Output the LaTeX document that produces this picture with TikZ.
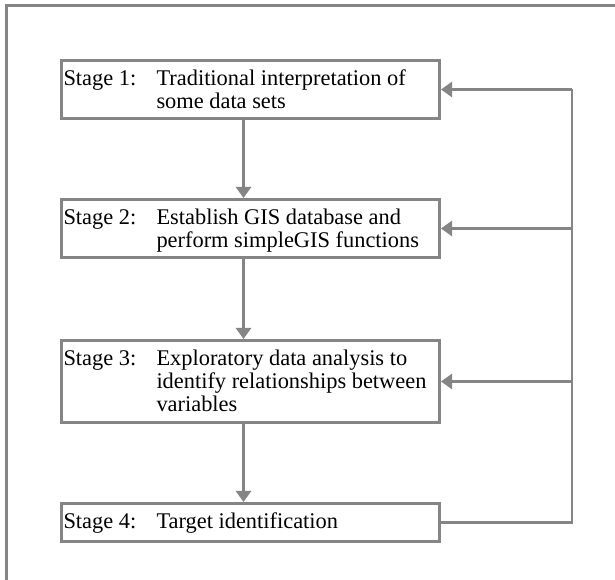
\documentclass[tikz,border=0pt]{standalone}
\usepackage{fontspec}
\setmainfont{Liberation Serif}
\usetikzlibrary{arrows.meta,positioning}
\definecolor{edge}{HTML}{858585}
\tikzset{
  >={Triangle[length=11pt,width=15pt]},
  stagebox/.style={draw=edge,line width=3pt,inner xsep=2pt,inner ysep=0pt,minimum width=378pt,text height=25pt,font=\fontsize{22.4}{23}\selectfont},
  arr/.style={->,draw=edge,line width=2.6pt},
  link/.style={draw=edge,line width=2.6pt},
  frame/.style={draw=edge,line width=3pt},
}
\newcommand{\stagetxt}[2]{\makebox[93pt][l]{Stage #1:}\parbox[t]{281pt}{#2}}

\begin{document}
\begin{tikzpicture}[x=1pt,y=1pt]
\useasboundingbox (0,0) rectangle (615,580);
\draw[frame] (625,574) -| (6,-10);
% the four stages
\node[stagebox,text depth=33pt,anchor=north west] (b1) at (60,521) {\stagetxt{1}{Traditional interpretation of\\some data sets}};
\node[stagebox,text depth=33pt,below=78pt of b1] (b2) {\stagetxt{2}{Establish GIS database and\\perform simpleGIS functions}};
\node[stagebox,text depth=57pt,below=80pt of b2] (b3) {\stagetxt{3}{Exploratory data analysis to\\identify relationships between\\variables}};
\node[stagebox,text depth=13pt,below=78pt of b3] (b4) {\stagetxt{4}{Target identification}};
% forward arrows
\draw[arr] ([xshift=-7pt]b1.south) -- ([xshift=-7pt]b2.north);
\draw[arr] ([xshift=-7pt]b2.south) -- ([xshift=-7pt]b3.north);
\draw[arr] ([xshift=-7pt]b3.south) -- ([xshift=-7pt]b4.north);
% feedback loop
\coordinate (rt) at ([xshift=131pt]b1.east);
\draw[link] (b4.east) -| (rt);
\draw[arr] (rt) -- (b1.east);
\draw[arr] (b2.east -| rt) -- (b2.east);
\draw[arr] (b3.east -| rt) -- (b3.east);
\end{tikzpicture}
\end{document}
